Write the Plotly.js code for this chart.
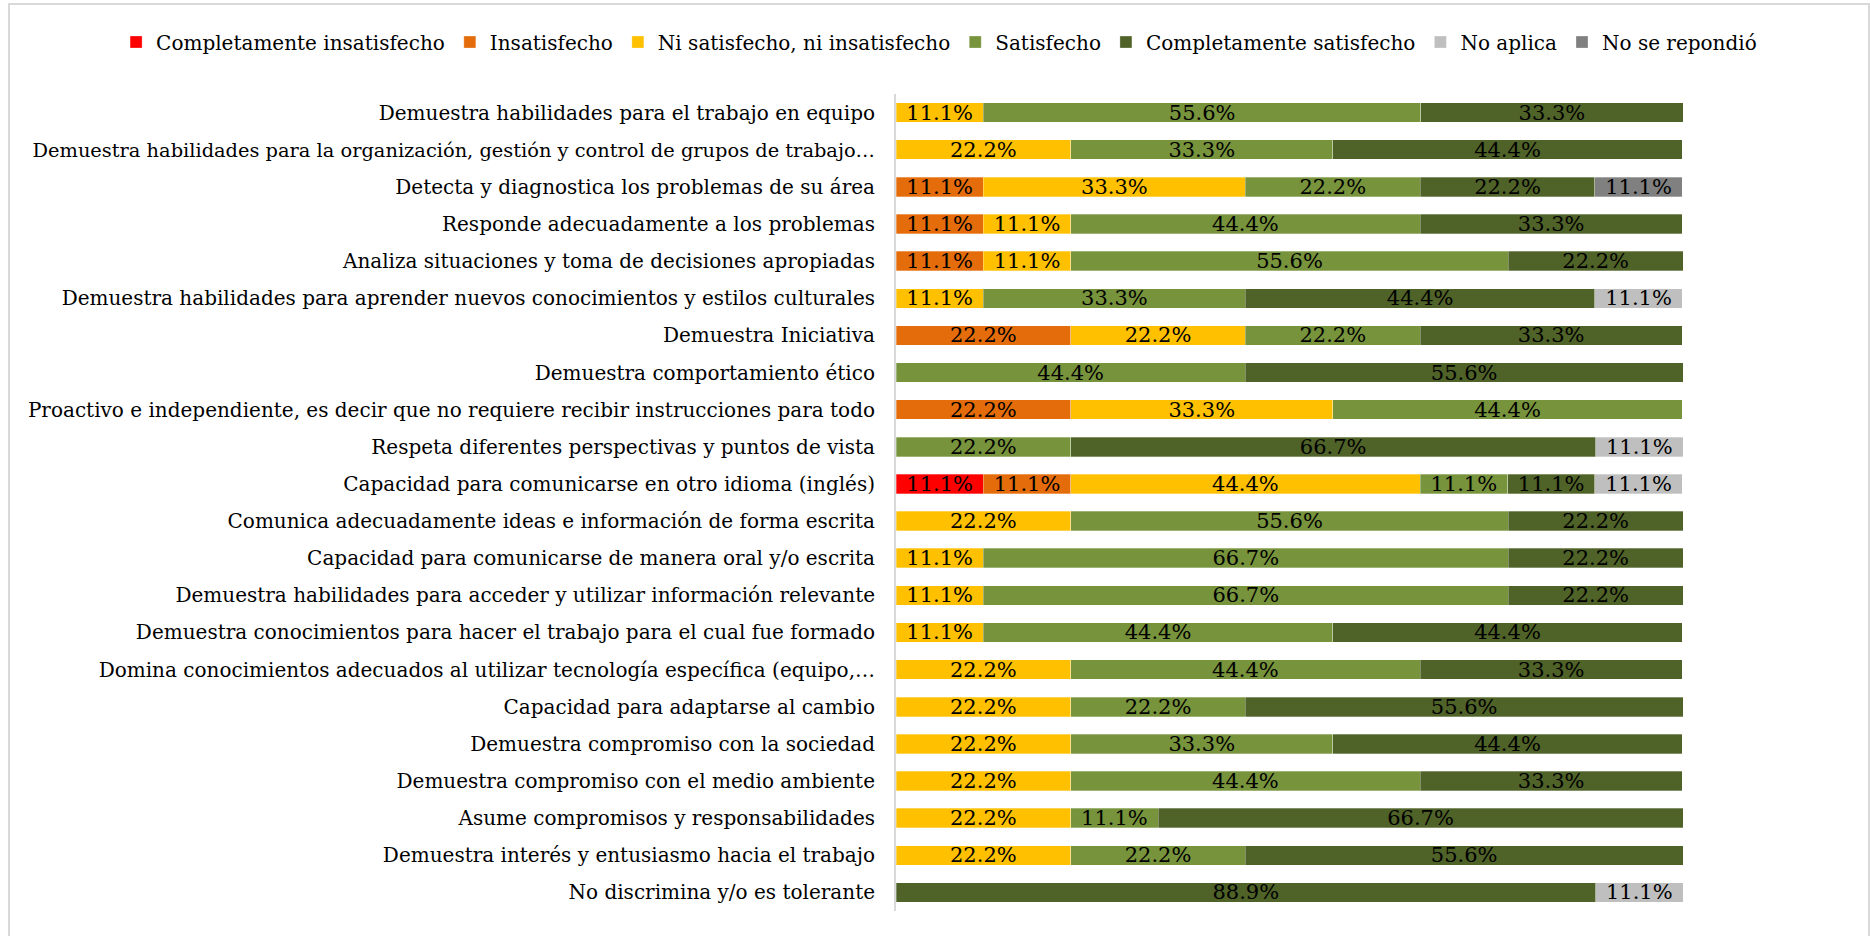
<!DOCTYPE html>
<html>
<head>
<meta charset="utf-8">
<script src="https://cdn.plot.ly/plotly-3.0.1.min.js"></script>
<style>
	body { margin: 0; background: #fff; overflow: hidden; }
	#chart { width: 1870px; height: 936px; }
	#marco { position: absolute; left: 8px; top: 3px; width: 1862px; height: 945px; box-sizing: border-box; border: 2px solid #d9d9d9; pointer-events: none; }
</style>
</head>
<body>
<div id="chart"></div>
<div id="marco"></div>
<script>
const competencias = [
	'Demuestra habilidades para el trabajo en equipo',
	'Demuestra habilidades para la organización, gestión y control de grupos de trabajo…',
	'Detecta y diagnostica los problemas de su área',
	'Responde adecuadamente a los problemas',
	'Analiza situaciones y toma de decisiones apropiadas',
	'Demuestra habilidades para aprender nuevos conocimientos y estilos culturales',
	'Demuestra Iniciativa',
	'Demuestra comportamiento ético',
	'Proactivo e independiente, es decir que no requiere recibir instrucciones para todo',
	'Respeta diferentes perspectivas y puntos de vista',
	'Capacidad para comunicarse en otro idioma (inglés)',
	'Comunica adecuadamente ideas e información de forma escrita',
	'Capacidad para comunicarse de manera oral y/o escrita',
	'Demuestra habilidades para acceder y utilizar información relevante',
	'Demuestra conocimientos para hacer el trabajo para el cual fue formado',
	'Domina conocimientos adecuados al utilizar tecnología específica (equipo,…',
	'Capacidad para adaptarse al cambio',
	'Demuestra compromiso con la sociedad',
	'Demuestra compromiso con el medio ambiente',
	'Asume compromisos y responsabilidades',
	'Demuestra interés y entusiasmo hacia el trabajo',
	'No discrimina y/o es tolerante'
];

const completamenteInsatisfecho = [null,null,null,null,null,null,null,null,null,null,11.1,null,null,null,null,null,null,null,null,null,null,null];
const insatisfecho = [null,null,11.1,11.1,11.1,null,22.2,null,22.2,null,11.1,null,null,null,null,null,null,null,null,null,null,null];
const niSatisfecho = [11.1,22.2,33.3,11.1,11.1,11.1,22.2,null,33.3,null,44.4,22.2,11.1,11.1,11.1,22.2,22.2,22.2,22.2,22.2,22.2,null];
const satisfecho = [55.6,33.3,22.2,44.4,55.6,33.3,22.2,44.4,44.4,22.2,11.1,55.6,66.7,66.7,44.4,44.4,22.2,33.3,44.4,11.1,22.2,null];
const completamenteSatisfecho = [33.3,44.4,22.2,33.3,22.2,44.4,33.3,55.6,null,66.7,11.1,22.2,22.2,22.2,44.4,33.3,55.6,44.4,33.3,66.7,55.6,88.9];
const noAplica = [null,null,null,null,null,11.1,null,null,null,11.1,11.1,null,null,null,null,null,null,null,null,null,null,11.1];
const noRespondio = [null,null,11.1,null,null,null,null,null,null,null,null,null,null,null,null,null,null,null,null,null,null,null];

const series = [
	['Completamente insatisfecho', completamenteInsatisfecho, '#FF0000'],
	['Insatisfecho', insatisfecho, '#E46C0A'],
	['Ni satisfecho, ni insatisfecho', niSatisfecho, '#FFC000'],
	['Satisfecho', satisfecho, '#77933C'],
	['Completamente satisfecho', completamenteSatisfecho, '#4F6228'],
	['No aplica', noAplica, '#BFBFBF'],
	['No se repondió', noRespondio, '#808080']
];

const fuente = 'DejaVu Serif, Liberation Serif, serif';

// la etiqueta cortada mas larga se achica un poco para que no pise el marco
const etiquetas = competencias.map(function (c) {
	return (c.length > 80 && c.endsWith('…')) ? '<span style="font-size:19.4px">' + c + '</span>' : c;
});

const data = series.map(function (s) {
	return {
		type: 'bar',
		orientation: 'h',
		name: s[0],
		x: s[1],
		y: competencias,
		text: s[1].map(function (v) { return v === null ? '' : v.toFixed(1) + '%'; }),
		textposition: 'inside',
		insidetextanchor: 'middle',
		constraintext: 'none',
		textfont: { family: fuente, size: 21, color: '#000000' },
		marker: { color: s[2], line: { color: 'rgba(255,255,255,0.6)', width: 0.5 } },
		hoverinfo: 'skip'
	};
});

const layout = {
	width: 1870,
	height: 936,
	barmode: 'stack',
	bargap: 0.475,
	paper_bgcolor: '#ffffff',
	plot_bgcolor: '#ffffff',
	margin: { l: 896, r: 187, t: 94, b: 25, pad: 0 },
	font: { family: fuente, size: 20, color: '#000000' },
	showlegend: true,
	legend: {
		orientation: 'h',
		x: -0.991,
		xanchor: 'left',
		y: 1.0636,
		yanchor: 'middle',
		font: { family: fuente, size: 20, color: '#000000' },
		traceorder: 'normal'
	},
	xaxis: {
		range: [0, 100],
		visible: false,
		fixedrange: true
	},
	yaxis: {
		type: 'category',
		autorange: 'reversed',
		tickmode: 'array',
		tickvals: competencias,
		ticktext: etiquetas,
		showline: true,
		linecolor: '#d9d9d9',
		linewidth: 2,
		showgrid: false,
		ticks: 'outside',
		ticklen: 15,
		tickcolor: 'rgba(0,0,0,0)',
		tickfont: { family: fuente, size: 20, color: '#000000' },
		fixedrange: true
	}
};

Plotly.newPlot('chart', data, layout, { staticPlot: true, displayModeBar: false });
</script>
</body>
</html>
